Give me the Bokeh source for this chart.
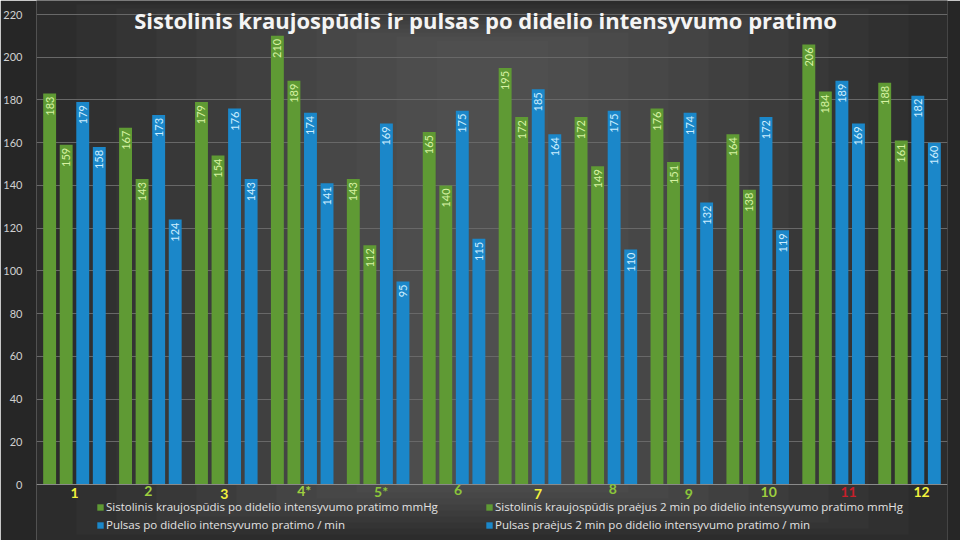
from bokeh.plotting import figure
from bokeh.models import (ColumnDataSource, FactorRange, LabelSet, Label, Legend, LegendItem,
                          BoxAnnotation, FixedTicker, Span)
from bokeh.transform import dodge
from bokeh.core.properties import value
from bokeh.embed import file_html
from bokeh.resources import INLINE

# ---- data ----
groups = ["1", "2", "3", "4*", "5*", "6", "7", "8", "9", "10", "11", "12"]
sys_after = [183, 167, 179, 210, 143, 165, 195, 172, 176, 164, 206, 188]
sys_2min = [159, 143, 154, 189, 112, 140, 172, 149, 151, 138, 184, 161]
pulse_after = [179, 173, 176, 174, 169, 175, 185, 175, 174, 172, 189, 182]
pulse_2min = [158, 124, 143, 141, 95, 115, 164, 110, 132, 119, 169, 160]
series_names = [
    "Sistolinis kraujospūdis po didelio intensyvumo pratimo mmHg",
    "Sistolinis kraujospūdis praėjus 2 min po didelio intensyvumo pratimo mmHg",
    "Pulsas po didelio intensyvumo pratimo / min",
    "Pulsas praėjus 2 min po didelio intensyvumo pratimo / min",
]
y_ticks = [0, 20, 40, 60, 80, 100, 120, 140, 160, 180, 200, 220]
group_label_colors = ["#f2f23c", "#9fcf3f", "#f2f23c", "#9fcf3f", "#8cc63a", "#8cc63a",
                      "#f2f23c", "#8cc63a", "#8cc63a", "#9fcf3f", "#c8202a", "#f2f23c"]
title_text = "Sistolinis kraujospūdis ir pulsas po didelio intensyvumo pratimo"

# ---- style / layout ----
GREEN = "#5f9a34"
BLUE = "#1b87c9"
GREEN_TXT = "#d6f2a2"
BLUE_TXT = "#cdeeff"
FONT = "Lato"
W, H = 960, 540
LEFT, RIGHT = 35, 13
PX_PER_UNIT = 470 / 220.0
ZERO_PX = 484  # page y of value 0
y_lo = -(H - ZERO_PX) / PX_PER_UNIT
y_hi = 220 + (ZERO_PX - 470) / PX_PER_UNIT
FRAME_W = W - LEFT - RIGHT

src = ColumnDataSource(dict(g=groups, s1=sys_after, s2=sys_2min, p1=pulse_after, p2=pulse_2min,
                            t1=[str(v) for v in sys_after], t2=[str(v) for v in sys_2min],
                            t3=[str(v) for v in pulse_after], t4=[str(v) for v in pulse_2min]))

p = figure(width=W, height=H, x_range=FactorRange(*groups, range_padding=0),
           y_range=(y_lo, y_hi), output_backend="svg", toolbar_location=None,
           min_border_left=LEFT, min_border_right=RIGHT, min_border_top=0, min_border_bottom=0)
p.background_fill_color = "#2a2a2a"
p.border_fill_color = "#262626"
p.outline_line_color = None

# vignette (lighter toward the middle)
shades = ["#2c2c2c", "#303030", "#343434", "#383838", "#3c3c3c", "#404040",
          "#444444", "#474747", "#4a4a4a", "#4d4d4d", "#4f4f4f"]
step = 40
for i, c in enumerate(shades):
    inset = i * step
    p.add_layout(BoxAnnotation(left=inset, right=FRAME_W - inset, bottom=0 + i * 6, top=H - i * 4,
                               left_units="screen", right_units="screen",
                               bottom_units="screen", top_units="screen",
                               fill_color=c, fill_alpha=1.0, line_color=None, level="image"))

offs = [-0.327, -0.109, 0.109, 0.327]
cols = ["s1", "s2", "p1", "p2"]
txts = ["t1", "t2", "t3", "t4"]
colors = [GREEN, GREEN, BLUE, BLUE]
tcolors = [GREEN_TXT, GREEN_TXT, BLUE_TXT, BLUE_TXT]
renderers = []
for off, col, txt, c, tc in zip(offs, cols, txts, colors, tcolors):
    r = p.vbar(x=dodge("g", off, range=p.x_range), top=col, bottom=0, width=0.17, source=src,
               fill_color=c, line_color=None)
    renderers.append(r)
    p.text(x=dodge("g", off, range=p.x_range), y=col, text=txt, source=src, angle=1.5708,
           text_align="right", text_baseline="middle", y_offset=3,
           text_color=tc, text_font=value(FONT), text_font_size="11px")

# axes
p.xaxis.visible = False
p.yaxis.axis_line_color = None
p.yaxis.major_tick_line_color = None
p.yaxis.minor_tick_line_color = None
p.yaxis.major_label_text_color = "#d0d0d0"
p.yaxis.major_label_text_font = FONT
p.yaxis.major_label_text_font_size = "11px"
p.yaxis.major_label_standoff = 8
p.yaxis.ticker = FixedTicker(ticks=y_ticks)
p.ygrid.ticker = FixedTicker(ticks=y_ticks[1:])
p.ygrid.grid_line_color = "#686868"
p.ygrid.grid_line_width = 1
p.xgrid.grid_line_color = None

# zero baseline
p.add_layout(Span(location=0, dimension="width", line_color="#8a8a8a", line_width=1))

# group labels below axis
lab_src = ColumnDataSource(dict(g=groups, c=group_label_colors,
                                y=[48, 50, 47, 50, 49, 51, 47, 52, 47, 49, 49, 49],
                                dx=[0, -2, -2, 2, 3, 4, 8, 7, 7, 11, 15, 12]))
p.add_layout(LabelSet(x="g", y="y", y_units="screen", text="g", source=lab_src,
                      text_color="c", text_align="center", text_baseline="middle",
                      x_offset="dx", text_font=value(FONT), text_font_size=value("14px"),
                      text_font_style=value("bold")))

# title
p.add_layout(Label(x=449, y=H - 19, x_units="screen", y_units="screen", text=title_text,
                   text_align="center", text_baseline="middle", text_color="#f4f4f4",
                   text_font="Open Sans", text_font_size="22px", text_font_style="bold"))

# legends (two columns)
for idxs, xloc in (([0, 2], 60), ([1, 3], 449)):
    leg = Legend(items=[LegendItem(label=series_names[i], renderers=[renderers[i]]) for i in idxs],
                 location=(xloc, 8), orientation="vertical",
                 background_fill_alpha=0, border_line_color=None,
                 label_text_color="#e2e2e2", label_text_font="Open Sans",
                 label_text_font_size="11.5px",
                 glyph_width=8, glyph_height=8, label_height=12, spacing=3, padding=0, margin=0,
                 label_standoff=2)
    p.add_layout(leg, "center")

html = file_html(p, INLINE)
open("out.html", "w").write(html)
